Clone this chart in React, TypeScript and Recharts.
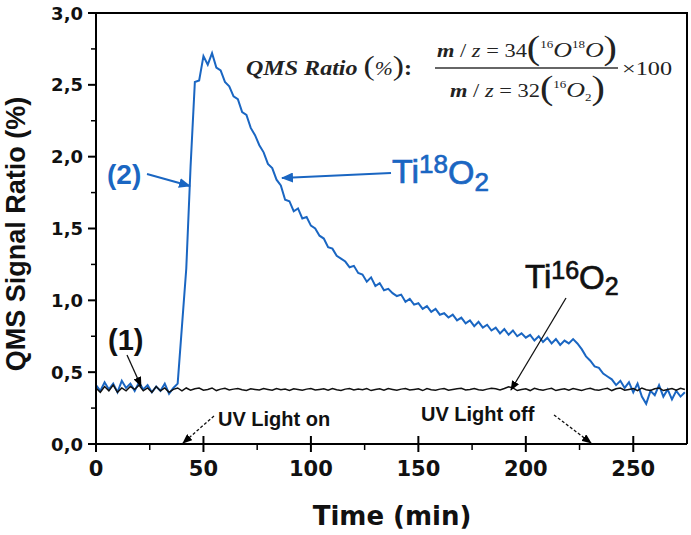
import React from 'react';
import { LineChart, Line, XAxis, YAxis } from 'recharts';

// time axis (min), sampled every 2 min
const TIME_MIN = [
  0, 2, 4, 6, 8, 10, 12, 14, 16, 18,
  20, 22, 24, 26, 28, 30, 32, 34, 36, 38,
  40, 42, 44, 46, 48, 50, 52, 54, 56, 58,
  60, 62, 64, 66, 68, 70, 72, 74, 76, 78,
  80, 82, 84, 86, 88, 90, 92, 94, 96, 98,
  100, 102, 104, 106, 108, 110, 112, 114, 116, 118,
  120, 122, 124, 126, 128, 130, 132, 134, 136, 138,
  140, 142, 144, 146, 148, 150, 152, 154, 156, 158,
  160, 162, 164, 166, 168, 170, 172, 174, 176, 178,
  180, 182, 184, 186, 188, 190, 192, 194, 196, 198,
  200, 202, 204, 206, 208, 210, 212, 214, 216, 218,
  220, 222, 224, 226, 228, 230, 232, 234, 236, 238,
  240, 242, 244, 246, 248, 250, 252, 254, 256, 258,
  260, 262, 264, 266, 268, 270, 272, 274,
];

// (2) Ti18O2 sample, QMS ratio in %
const TI18O2 = [
  0.41, 0.37, 0.43, 0.38, 0.42, 0.36, 0.44, 0.39, 0.42, 0.37,
  0.43, 0.38, 0.41, 0.36, 0.40, 0.37, 0.42, 0.35, 0.39, 0.42,
  0.82, 1.22, 1.93, 2.52, 2.53, 2.70, 2.64, 2.72, 2.62, 2.60,
  2.52, 2.49, 2.42, 2.40, 2.31, 2.29, 2.20, 2.15, 2.08, 2.03,
  1.95, 1.92, 1.84, 1.80, 1.70, 1.69, 1.62, 1.64, 1.57, 1.58,
  1.52, 1.50, 1.45, 1.43, 1.37, 1.36, 1.31, 1.29, 1.27, 1.23,
  1.24, 1.19, 1.18, 1.13, 1.16, 1.10, 1.12, 1.07, 1.08, 1.05,
  1.03, 1.04, 0.99, 1.01, 0.97, 0.98, 0.94, 0.96, 0.92, 0.94,
  0.90, 0.91, 0.88, 0.90, 0.86, 0.88, 0.84, 0.86, 0.82, 0.85,
  0.81, 0.83, 0.79, 0.81, 0.77, 0.80, 0.76, 0.79, 0.75, 0.77,
  0.74, 0.76, 0.72, 0.75, 0.71, 0.74, 0.70, 0.73, 0.69, 0.72,
  0.70, 0.73, 0.70, 0.66, 0.61, 0.58, 0.54, 0.53, 0.49, 0.47,
  0.45, 0.41, 0.44, 0.39, 0.43, 0.36, 0.42, 0.33, 0.28, 0.37,
  0.34, 0.41, 0.33, 0.38, 0.31, 0.37, 0.33, 0.36,
];

// (1) Ti16O2 sample
const TI16O2 = [
  0.39, 0.36, 0.40, 0.37, 0.41, 0.36, 0.39, 0.37, 0.40, 0.38,
  0.41, 0.37, 0.39, 0.36, 0.40, 0.37, 0.39, 0.36, 0.38, 0.39,
  0.37, 0.39, 0.375, 0.385, 0.39, 0.375, 0.38, 0.39, 0.372, 0.382,
  0.388, 0.376, 0.382, 0.386, 0.378, 0.372, 0.384, 0.38, 0.376, 0.386,
  0.38, 0.374, 0.386, 0.378, 0.382, 0.372, 0.384, 0.38, 0.374, 0.382,
  0.386, 0.376, 0.38, 0.384, 0.374, 0.386, 0.378, 0.372, 0.382, 0.386,
  0.376, 0.382, 0.378, 0.386, 0.372, 0.38, 0.384, 0.374, 0.386, 0.38,
  0.374, 0.382, 0.386, 0.376, 0.38, 0.384, 0.372, 0.386, 0.378, 0.374,
  0.382, 0.386, 0.374, 0.38, 0.384, 0.388, 0.376, 0.38, 0.386, 0.378,
  0.374, 0.382, 0.388, 0.384, 0.376, 0.386, 0.398, 0.39, 0.372, 0.38,
  0.384, 0.372, 0.388, 0.38, 0.374, 0.382, 0.388, 0.372, 0.38, 0.384,
  0.374, 0.386, 0.38, 0.372, 0.382, 0.388, 0.378, 0.374, 0.382, 0.388,
  0.372, 0.384, 0.39, 0.374, 0.38, 0.386, 0.372, 0.39, 0.378, 0.372,
  0.384, 0.39, 0.372, 0.38, 0.386, 0.374, 0.388, 0.38,
];

const X_TICKS = [0, 25, 50, 75, 100, 125, 150, 175, 200, 225, 250];
const X_TOP_TICKS = [25, 75, 125, 175, 225];
const Y_TICKS = [0, 0.25, 0.5, 0.75, 1, 1.25, 1.5, 1.75, 2, 2.25, 2.5, 2.75, 3];

const BLUE = '#1a66c2';
const SANS = '"Liberation Sans", Arial, sans-serif';
const WIDE = '"DejaVu Sans", sans-serif';
const SERIF = '"Liberation Serif", "Times New Roman", serif';

const rows = TIME_MIN.map((t, i) => ({ t, ti18: TI18O2[i], ti16: TI16O2[i] }));

const XTick = (props: any) => {
  const { x, y, payload } = props;
  const axisY = y - 16; // tickSize + tickMargin
  const v = payload.value;
  if (v % 50 !== 0) {
    return <line x1={x} x2={x} y1={axisY} y2={axisY + 6} stroke="#000" strokeWidth={1.5} />;
  }
  return (
    <g>
      <line x1={x} x2={x} y1={axisY - 8} y2={axisY + 8} stroke="#000" strokeWidth={2} />
      <text x={x} y={y + 16} textAnchor="middle" fontFamily={WIDE} fontWeight="bold" fontSize={21} fill="#111">
        {v}
      </text>
    </g>
  );
};

const YTick = (props: any) => {
  const { x, y, payload } = props;
  const axisX = x + 13;
  const v = payload.value;
  const major = Math.abs(v * 2 - Math.round(v * 2)) < 1e-6;
  if (!major) {
    return <line x1={axisX - 5} x2={axisX} y1={y} y2={y} stroke="#000" strokeWidth={1.5} />;
  }
  return (
    <g>
      <line x1={axisX - 8} x2={axisX} y1={y} y2={y} stroke="#000" strokeWidth={2} />
      <text x={x} y={y + 6.5} textAnchor="end" fontFamily={WIDE} fontWeight="bold" fontSize={18} fill="#111">
        {v.toFixed(1).replace('.', ',')}
      </text>
    </g>
  );
};

const Annotations = () => (
  <svg width={691} height={535} style={{ position: 'absolute', left: 0, top: 0, pointerEvents: 'none' }}>
    <defs>
      <marker id="hBlue" markerWidth={12} markerHeight={10} refX={11} refY={5} orient="auto" markerUnits="userSpaceOnUse">
        <path d="M0,0 L12,5 L0,10 Z" fill={BLUE} />
      </marker>
      <marker id="hBlack" markerWidth={10} markerHeight={8} refX={9} refY={4} orient="auto" markerUnits="userSpaceOnUse">
        <path d="M0,0 L10,4 L0,8 Z" fill="#000" />
      </marker>
    </defs>

    {/* frame: top and right edges of the plot box */}
    <polyline points="96,13 687,13 687,444" fill="none" stroke="#000" strokeWidth={2} />

    {/* axis titles */}
    <text transform="rotate(-90)" x={-234} y={25} textAnchor="middle" fontFamily={SANS} fontWeight="bold" fontSize={27} fill="#111">
      QMS Signal Ratio (%)
    </text>
    <text x={392} y={525} textAnchor="middle" fontFamily={WIDE} fontWeight="bold" fontSize={26} fill="#111">
      Time (min)
    </text>

    {/* formula */}
    <text x={246} y={75} textLength={166} lengthAdjust="spacingAndGlyphs" fontFamily={SERIF} fontStyle="italic" fontWeight="bold" fontSize={20} fill="#222">
      QMS Ratio <tspan fontStyle="normal" fontWeight="normal" fontSize={28}>(</tspan>
      <tspan fontWeight="normal" fontSize={18}>%</tspan>
      <tspan fontStyle="normal" fontWeight="normal" fontSize={28}>)</tspan>
      <tspan fontStyle="normal">:</tspan>
    </text>
    <text x={437} y={57} textLength={180} lengthAdjust="spacingAndGlyphs" fontFamily={SERIF} fontSize={19} fill="#222">
      <tspan fontStyle="italic" fontWeight="bold">m</tspan> / <tspan fontStyle="italic">z</tspan> = 34
      <tspan fontSize={34} dy={2}>(</tspan>
      <tspan fontSize={11} dy={-11}>16</tspan>
      <tspan fontStyle="italic" fontSize={22} dy={9}>O</tspan>
      <tspan fontSize={11} dy={-9}>18</tspan>
      <tspan fontStyle="italic" fontSize={22} dy={9}>O</tspan>
      <tspan fontSize={34} dy={2}>)</tspan>
    </text>
    <line x1={435} x2={618} y1={68} y2={68} stroke="#333" strokeWidth={1.3} />
    <text x={450} y={97} textLength={155} lengthAdjust="spacingAndGlyphs" fontFamily={SERIF} fontSize={19} fill="#222">
      <tspan fontStyle="italic" fontWeight="bold">m</tspan> / <tspan fontStyle="italic">z</tspan> = 32
      <tspan fontSize={34} dy={2}>(</tspan>
      <tspan fontSize={11} dy={-11}>16</tspan>
      <tspan fontStyle="italic" fontSize={22} dy={9}>O</tspan>
      <tspan fontSize={11} dy={4}>2</tspan>
      <tspan fontSize={34} dy={-2}>)</tspan>
    </text>
    <text x={622} y={75} textLength={50} lengthAdjust="spacingAndGlyphs" fontFamily={SERIF} fontSize={19} fill="#222">×100</text>

    {/* (2) label */}
    <text x={107} y={184} fontFamily={SANS} fontWeight="bold" fontSize={28} fill={BLUE}>(2)</text>
    <line x1={147} y1={174} x2={190} y2={186} stroke={BLUE} strokeWidth={2} markerEnd="url(#hBlue)" />

    {/* Ti18O2 label */}
    <text x={392} y={183} fontFamily={SANS} fontSize={34} fill={BLUE} stroke={BLUE} strokeWidth={0.7}>
      Ti<tspan fontSize={26} dy={-10}>18</tspan>
      <tspan fontSize={34} dy={11}>O</tspan>
      <tspan fontSize={26} dy={7}>2</tspan>
    </text>
    <line x1={391} y1={173} x2={282} y2={178} stroke={BLUE} strokeWidth={2} markerEnd="url(#hBlue)" />

    {/* Ti16O2 label */}
    <text x={525} y={288} fontFamily={SANS} fontSize={33} fill="#111" stroke="#111" strokeWidth={0.7}>
      Ti<tspan fontSize={25} dy={-9}>16</tspan>
      <tspan fontSize={33} dy={10}>O</tspan>
      <tspan fontSize={25} dy={6}>2</tspan>
    </text>
    <line x1={566} y1={298} x2={511} y2={390} stroke="#111" strokeWidth={1.3} markerEnd="url(#hBlack)" />

    {/* (1) label */}
    <text x={108} y={350} fontFamily={SANS} fontWeight="bold" fontSize={29} fill="#111">(1)</text>
    <line x1={127} y1={355} x2={141} y2={386} stroke="#111" strokeWidth={1.3} markerEnd="url(#hBlack)" />

    {/* UV light markers */}
    <text x={218} y={426} fontFamily={SANS} fontWeight="bold" fontSize={20} fill="#111">UV Light on</text>
    <line x1={214} y1={416} x2={183} y2={443} stroke="#111" strokeWidth={1.3} strokeDasharray="3 2" markerEnd="url(#hBlack)" />
    <text x={421} y={421} fontFamily={SANS} fontWeight="bold" fontSize={20} fill="#111">UV Light off</text>
    <line x1={554} y1={415} x2={591} y2={443} stroke="#111" strokeWidth={1.3} strokeDasharray="3 2" markerEnd="url(#hBlack)" />
  </svg>
);

export default function App() {
  return (
    <div style={{ position: 'absolute', left: 0, top: 0, width: 691, height: 535, background: '#fff' }}>
      <LineChart width={691} height={535} data={rows} margin={{ top: 12, right: 4, left: 0, bottom: 0 }}>
        <XAxis
          xAxisId="b"
          dataKey="t"
          type="number"
          domain={[0, 275]}
          ticks={X_TICKS}
          interval={0}
          height={91}
          tickSize={8}
          tickMargin={8}
          tickLine={false}
          axisLine={{ stroke: '#000', strokeWidth: 2 }}
          tick={<XTick />}
        />
        <XAxis
          xAxisId="top"
          orientation="top"
          dataKey="t"
          type="number"
          domain={[0, 275]}
          ticks={X_TOP_TICKS}
          interval={0}
          height={1}
          tickSize={5}
          tick={false}
          tickLine={{ stroke: '#000', strokeWidth: 1.5 }}
          axisLine={{ stroke: '#000', strokeWidth: 2 }}
        />
        <YAxis
          yAxisId="l"
          type="number"
          domain={[0, 3]}
          ticks={Y_TICKS}
          interval={0}
          width={96}
          tickSize={8}
          tickMargin={5}
          tickLine={false}
          axisLine={{ stroke: '#000', strokeWidth: 2 }}
          tick={<YTick />}
        />
        <Line xAxisId="b" yAxisId="l" dataKey="ti18" stroke={BLUE} strokeWidth={2} dot={false} isAnimationActive={false} />
        <Line xAxisId="b" yAxisId="l" dataKey="ti16" stroke="#111" strokeWidth={1.5} dot={false} isAnimationActive={false} />
      </LineChart>
      <Annotations />
    </div>
  );
}
